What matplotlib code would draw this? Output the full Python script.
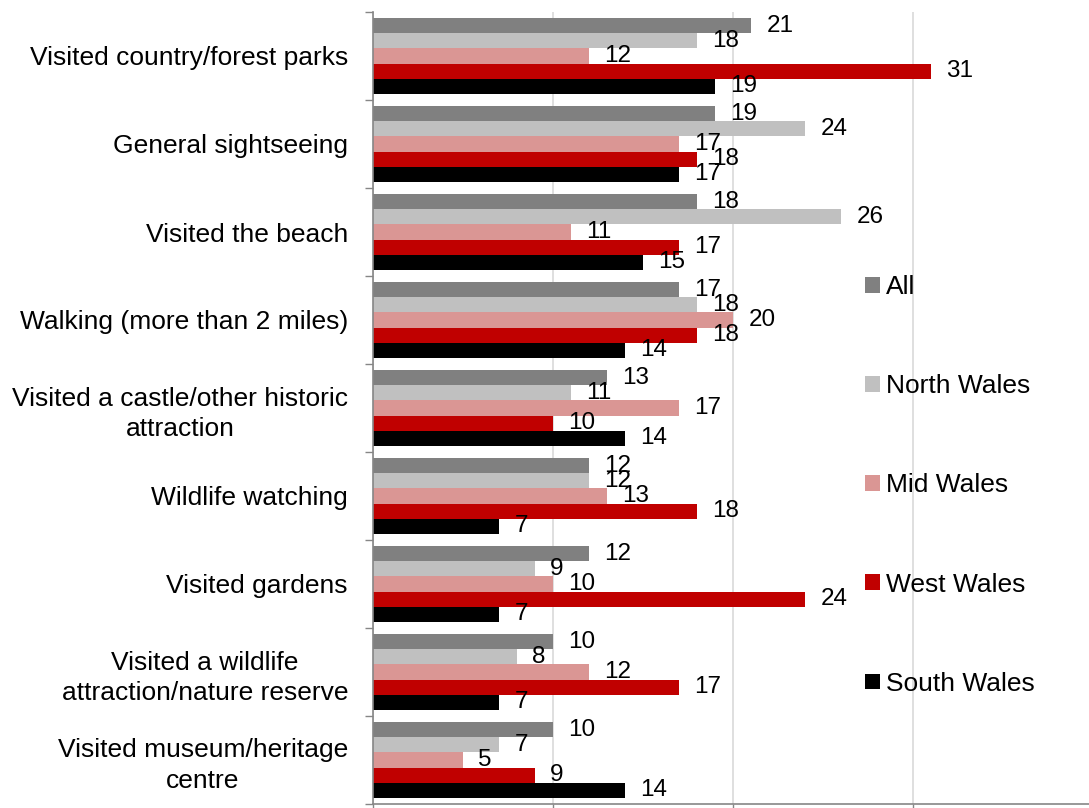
import numpy as np
import matplotlib
matplotlib.use("Agg")
import matplotlib.pyplot as plt

plt.rcParams["font.family"] = ["Liberation Sans", "DejaVu Sans"]

categories = [
    "Visited country/forest parks",
    "General sightseeing",
    "Visited the beach",
    "Walking (more than 2 miles)",
    "Visited a castle/other historic\nattraction",
    "Wildlife watching",
    "Visited gardens",
    "Visited a wildlife\nattraction/nature reserve",
    "Visited museum/heritage\ncentre",
]
series_names = ["All", "North Wales", "Mid Wales", "West Wales", "South Wales"]
all_wales = [21, 19, 18, 17, 13, 12, 12, 10, 10]
north_wales = [18, 24, 26, 18, 11, 12, 9, 8, 7]
mid_wales = [12, 17, 11, 20, 17, 13, 10, 12, 5]
west_wales = [31, 18, 17, 18, 10, 18, 24, 17, 9]
south_wales = [19, 17, 15, 14, 14, 7, 7, 7, 14]
colors = ["#808080", "#C0C0C0", "#DA9694", "#C00000", "#000000"]

series = [all_wales, north_wales, mid_wales, west_wales, south_wales]

fig = plt.figure(figsize=(10.89, 8.08), dpi=100)
W, H = 1089, 808
ax = fig.add_axes([373 / W, 1 - 804 / H, 720 / W, 792 / H])

y = np.arange(len(categories))
bar_h = 0.173
for j, (vals, name, col) in enumerate(zip(series, series_names, colors)):
    pos = y + (j - 2) * bar_h
    bars = ax.barh(pos, vals, height=bar_h, color=col, label=name, zorder=2)
    for b, v in zip(bars, vals):
        ax.annotate(str(v), (b.get_width(), b.get_y() + b.get_height() / 2),
                    xytext=(11, 0), textcoords="offset points",
                    ha="left", va="center", fontsize=17.5, color="black")

ax.set_xlim(0, 40)
ax.set_ylim(len(categories) - 0.5, -0.5)
ax.set_xticks([0, 10, 20, 30, 40])
ax.set_xticklabels([])
ax.set_yticks(y)
ax.set_yticklabels(categories, fontsize=19)
for lab in ax.get_yticklabels():
    lab.set_multialignment("center")
    lab.set_linespacing(1.35)
ax.set_yticks(np.arange(-0.5, len(categories), 1), minor=True)
ax.tick_params(axis="y", which="major", length=0, pad=18)
ax.tick_params(axis="y", which="minor", length=6, color="#868686", width=1)
ax.tick_params(axis="x", which="major", length=6, color="#868686", width=1)

ax.grid(True, axis="x", color="#D9D9D9", linewidth=1.2, zorder=0)
ax.set_axisbelow(True)
for s in ["top", "right"]:
    ax.spines[s].set_visible(False)
for s in ["left", "bottom"]:
    ax.spines[s].set_color("#868686")
    ax.spines[s].set_linewidth(1.2)

fig.legend(loc="upper left", bbox_to_anchor=(865 / W, 1 - 275 / H),
           frameon=False, fontsize=19, handlelength=0.55, handleheight=0.55,
           handletextpad=0.25, labelspacing=2.85, borderpad=0, borderaxespad=0)

fig.savefig("out.png", dpi=100)
